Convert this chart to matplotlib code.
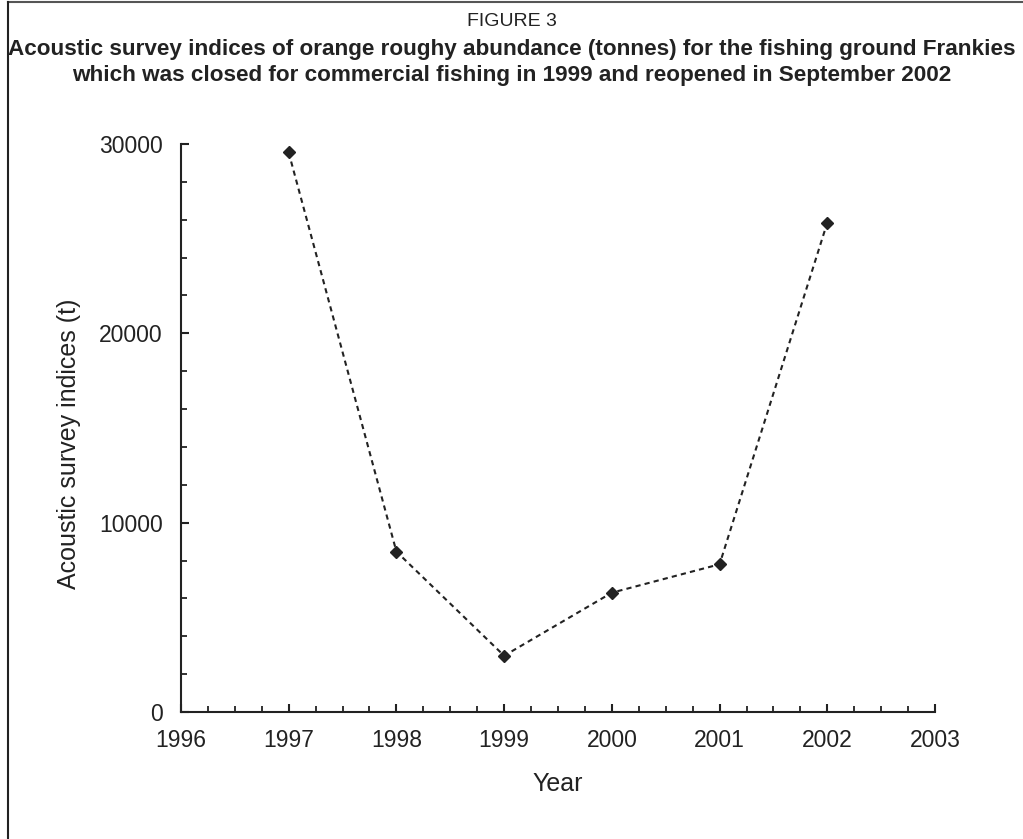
import matplotlib.pyplot as plt
from matplotlib.ticker import MultipleLocator
from matplotlib import font_manager
from matplotlib.lines import Line2D

# data
years = [1997, 1998, 1999, 2000, 2001, 2002]
indices = [29550, 8470, 2970, 6300, 7800, 25850]

names = {f.name for f in font_manager.fontManager.ttflist}
narrow = 'Liberation Sans Narrow' if 'Liberation Sans Narrow' in names else 'Liberation Sans'

fig = plt.figure(figsize=(10.23, 8.39), dpi=100)
ax = fig.add_axes([0.1769, 0.1514, 0.914 - 0.1769, 0.8284 - 0.1514])

ax.plot(years, indices, color='#222222', linestyle=(0, (2.5, 2)), linewidth=1.5,
        marker='D', markersize=6, markerfacecolor='#222222', markeredgecolor='#222222')

ax.set_xlim(1996, 2003)
ax.set_ylim(0, 30000)
ax.xaxis.set_major_locator(MultipleLocator(1))
ax.xaxis.set_minor_locator(MultipleLocator(0.25))
ax.yaxis.set_major_locator(MultipleLocator(10000))
ax.yaxis.set_minor_locator(MultipleLocator(2000))
ax.spines['top'].set_visible(False)
ax.spines['right'].set_visible(False)
for s in ('left', 'bottom'):
    ax.spines[s].set_linewidth(1.5)
    ax.spines[s].set_color('#222222')
ax.tick_params(which='major', direction='in', length=6, width=1.5, color='#222222',
               labelsize=16.5)
ax.tick_params(axis='x', which='major', pad=12)
ax.tick_params(axis='y', which='major', pad=13)
ax.tick_params(which='minor', direction='in', length=4, width=1.3, color='#222222')
for lab in ax.get_xticklabels() + ax.get_yticklabels():
    lab.set_fontfamily(narrow)
    lab.set_color('#222222')

ax.set_ylabel('Acoustic survey indices (t)', fontsize=18, family=narrow, color='#222222')
ax.yaxis.set_label_coords(-0.149, 0.472)
ax.set_xlabel('Year', fontsize=18, family=narrow, color='#222222')
ax.xaxis.set_label_coords(0.5, -0.127)
ax.xaxis.label.set_verticalalignment('center')
ax.yaxis.label.set_verticalalignment('center')

fig.text(0.5, 1 - 22 / 839, 'FIGURE 3', ha='center', va='center', fontsize=14, family=narrow, color='#222222')
fig.text(0.5, 1 - 49 / 839, 'Acoustic survey indices of orange roughy abundance (tonnes) for the fishing ground Frankies',
         ha='center', va='center', fontsize=16.2, family=narrow, weight='bold', color='#222222')
fig.text(0.5, 1 - 76 / 839, 'which was closed for commercial fishing in 1999 and reopened in September 2002',
         ha='center', va='center', fontsize=16.2, family=narrow, weight='bold', color='#222222')

# frame around the figure (top and left edges visible)
fig.add_artist(Line2D([8 / 1023, 1], [1 - 2 / 839, 1 - 2 / 839], transform=fig.transFigure,
                      color='#555555', linewidth=1.5))
fig.add_artist(Line2D([8 / 1023, 8 / 1023], [0, 1 - 2 / 839], transform=fig.transFigure,
                      color='#222222', linewidth=1.5))

fig.savefig('out.png', dpi=100)
